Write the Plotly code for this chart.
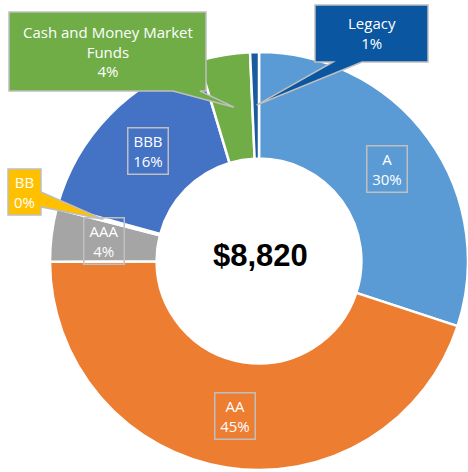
import math
import plotly.graph_objects as go

# ---- data ----
labels = ["A", "AA", "AAA", "BB", "BBB", "Cash and Money Market Funds", "Legacy"]
values = [2650, 3960, 360, 20, 1420, 350, 60]
colors = ["#5B9BD5", "#ED7D31", "#A5A5A5", "#FFC000", "#4472C4", "#70AD47", "#1A5A9E"]
inside_labels = ["A", "AA", "AAA", "BBB"]
callout_text = {
    "Cash and Money Market Funds": "Cash and Money Market<br>Funds",
    "Legacy": "Legacy",
    "BB": "BB",
}

# ---- layout constants ----
W, H = 468, 472
CX, CY, R = 259, 261, 209          # pie centre / radius in px
HOLE = 0.49
LABEL_R = 157                       # radius for inside labels / callout tips
FONT = "Open Sans"
BORDER = "#BFBFBF"

total = sum(values)
pct = [round(v / total * 100) for v in values]

def px_to_paper(x, y):
    return x / W, 1 - y / H

def slice_point(idx, r, cx=CX + 1, cy=CY):
    start = sum(values[:idx]) / total * 360
    mid = start + values[idx] / total * 360 / 2
    a = math.radians(mid)
    return cx + r * math.sin(a), cy - r * math.cos(a)

dom_x = [(CX - R) / W, min(1.0, (CX + R) / W)]
yc = 1 - CY / H
dom_y = [yc - R / H, yc + R / H]

fig = go.Figure(go.Pie(
    labels=labels, values=values, sort=False, direction="clockwise", rotation=0,
    hole=HOLE, textinfo="none", showlegend=False,
    marker=dict(colors=colors, line=dict(color="white", width=2.5)),
    domain=dict(x=dom_x, y=dom_y),
))

annotations = []
shapes = []

# inside boxed labels
for lab in inside_labels:
    i = labels.index(lab)
    x, y = slice_point(i, LABEL_R)
    px, py = px_to_paper(x, y)
    annotations.append(dict(
        x=px, y=py, xref="paper", yref="paper", showarrow=False,
        text=f"{lab}<br>{pct[i]}%", font=dict(family=FONT, size=15, color="white"),
        width=33, height=39, borderpad=3, bordercolor=BORDER, borderwidth=1.5,
        xanchor="center", yanchor="middle", align="center",
    ))

# callouts: box (x0,y0,x1,y1) in px, pointer base edge & span, tip radius, fill
callouts = {
    "Cash and Money Market Funds": dict(box=(9, 12, 206, 91), edge="bottom", base=(173, 200), tip_r=156, fill="#70AD47"),
    "Legacy": dict(box=(315, 5, 428, 62), edge="bottom", base=(333, 362), tip_r=156, fill="#0B56A0"),
    "BB": dict(box=(8, 169, 41, 215), edge="right", base=(192, 207), tip_r=162, fill="#FFC000"),
}

def P(x, y):
    a, b = px_to_paper(x, y)
    return f"{a:.5f},{b:.5f}"

for lab, c in callouts.items():
    i = labels.index(lab)
    x0, y0, x1, y1 = c["box"]
    tx, ty = slice_point(i, c["tip_r"])
    b0, b1 = c["base"]
    if c["edge"] == "bottom":
        pts = [(x0, y0), (x1, y0), (x1, y1), (b1, y1), (tx, ty), (b0, y1), (x0, y1)]
    else:
        pts = [(x0, y0), (x1, y0), (x1, b0), (tx, ty), (x1, b1), (x1, y1), (x0, y1)]
    path = "M " + " L ".join(P(*p) for p in pts) + " Z"
    shapes.append(dict(type="path", path=path, xref="paper", yref="paper",
                       fillcolor=c["fill"], line=dict(color=BORDER, width=1.5), layer="above"))
    mx, my = px_to_paper((x0 + x1) / 2, (y0 + y1) / 2)
    annotations.append(dict(
        x=mx, y=my, xref="paper", yref="paper", showarrow=False,
        text=f"{callout_text[lab]}<br>{pct[i]}%",
        font=dict(family=FONT, size=15, color="white"),
        xanchor="center", yanchor="middle", align="center",
    ))

# centre total
tx, ty = px_to_paper(260, 255)
annotations.append(dict(
    x=tx, y=ty, xref="paper", yref="paper", showarrow=False,
    text=f"<b>${total:,}</b>", font=dict(family="Liberation Sans, Arial", size=31, color="black"),
    xanchor="center", yanchor="middle",
))

fig.update_layout(
    width=W, height=H, margin=dict(l=0, r=0, t=0, b=0),
    paper_bgcolor="white", plot_bgcolor="white",
    annotations=annotations, shapes=shapes,
)

fig.write_html("out.html", config={"displayModeBar": False},
               post_script="document.body.style.margin='0';document.body.style.overflow='hidden';")
